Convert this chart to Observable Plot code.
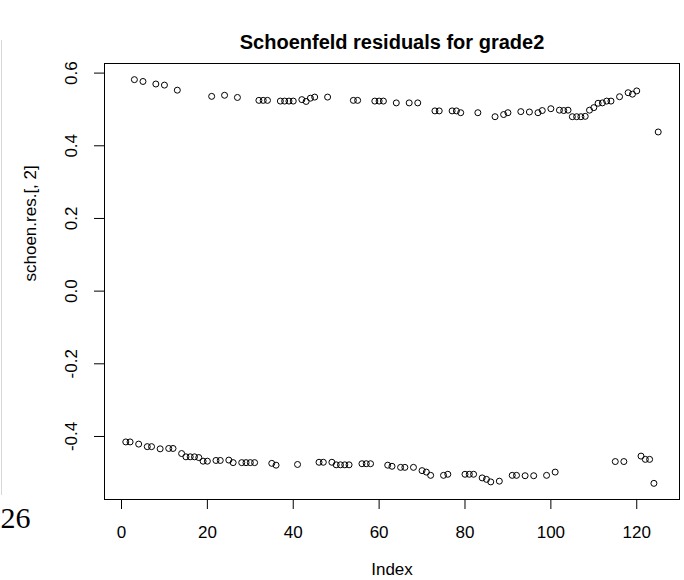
<!DOCTYPE html>
<html><head><meta charset="utf-8">
<script src="https://cdn.jsdelivr.net/npm/d3@7"></script>
<script src="https://cdn.jsdelivr.net/npm/@observablehq/plot@0.6"></script>
<style>body{margin:0;background:#fff}</style>
</head><body><div id="chart"></div>
<script>
// Schoenfeld residuals for grade2, in index order 1..125
const residuals = [
  -0.415, -0.415, 0.582, -0.421, 0.577, -0.428, -0.428, 0.570, -0.434, 0.567,
  -0.433, -0.433, 0.553, -0.447, -0.456, -0.456, -0.456, -0.458, -0.468, -0.468,
  0.536, -0.466, -0.466, 0.539, -0.465, -0.472, 0.533, -0.472, -0.472, -0.472,
  -0.472, 0.525, 0.525, 0.525, -0.474, -0.479, 0.523, 0.523, 0.523, 0.523,
  -0.477, 0.527, 0.522, 0.531, 0.534, -0.471, -0.471, 0.534, -0.471, -0.478,
  -0.478, -0.478, -0.478, 0.525, 0.525, -0.475, -0.475, -0.475, 0.523, 0.523,
  0.523, -0.479, -0.482, 0.518, -0.485, -0.485, 0.518, -0.485, 0.518, -0.494,
  -0.498, -0.507, 0.496, 0.496, -0.507, -0.504, 0.496, 0.496, 0.491, -0.504,
  -0.504, -0.504, 0.491, -0.514, -0.518, -0.525, 0.480, -0.523, 0.486, 0.491,
  -0.507, -0.507, 0.494, -0.508, 0.493, -0.508, 0.491, 0.497, -0.507, 0.502,
  -0.498, 0.498, 0.497, 0.498, 0.480, 0.480, 0.480, 0.481, 0.498, 0.505,
  0.517, 0.518, 0.523, 0.523, -0.469, 0.535, -0.469, 0.546, 0.542, 0.551,
  -0.454, -0.463, -0.463, -0.529, 0.438
];
const xTicks = [0, 20, 40, 60, 80, 100, 120];
const xTickLabels = ["0", "20", "40", "60", "80", "100", "120"];
const yTicks = [-0.4, -0.2, 0, 0.2, 0.4, 0.6];
const yTickLabels = ["-0.4", "-0.2", "0.0", "0.2", "0.4", "0.6"];
const title = "Schoenfeld residuals for grade2";
const xLabel = "Index";
const yLabel = "schoen.res.[, 2]";
const pageNumber = "26";

const data = residuals.map((v, i) => ({index: i + 1, value: v}));
// R-style axis range: data range extended by 4% on each side
function rRange(ext) { const r = ext[1] - ext[0]; return [ext[0] - 0.04 * r, ext[1] + 0.04 * r]; }

const sans = "'Liberation Sans', Arial, Helvetica, sans-serif";
const plot = Plot.plot({
  width: 684, height: 580,
  marginLeft: 104, marginRight: 5, marginTop: 63, marginBottom: 81,
  style: {fontFamily: sans, fontSize: "17px", background: "#fff", color: "#000"},
  x: {domain: rRange(d3.extent(data, d => d.index))},
  y: {domain: rRange(d3.extent(data, d => d.value))},
  marks: [
    Plot.frame({stroke: "#000", strokeWidth: 1}),
    Plot.axisX({ticks: xTicks, tickFormat: d => xTickLabels[xTicks.indexOf(d)], tickSize: 10, tickPadding: 16, label: null, fontSize: 17}),
    Plot.axisY({ticks: yTicks, tickFormat: d => yTickLabels[yTicks.indexOf(d)], tickRotate: -90, tickSize: 10, tickPadding: 18, label: null, fontSize: 17}),
    Plot.dot(data, {x: "index", y: "value", r: 3, stroke: "#000", strokeWidth: 1, fill: "none"}),
    Plot.text([title], {text: d => d, frameAnchor: "top", dy: -29, fontWeight: "bold", fontSize: 20}),
    Plot.text([xLabel], {text: d => d, frameAnchor: "bottom", dy: 75, fontSize: 17}),
    Plot.text([yLabel], {text: d => d, frameAnchor: "left", dx: -74, rotate: -90, fontSize: 17}),
    Plot.text([pageNumber], {text: d => d, frameAnchor: "bottom-left", textAnchor: "start", dx: -104, dy: 28, fontSize: 30, fontFamily: "'Liberation Serif', 'DejaVu Serif', serif"})
  ]
});
// faint scan edge line at the far left of the page
d3.select(plot).insert("line", ":first-child")
  .attr("x1", 1.5).attr("x2", 1.5).attr("y1", 40).attr("y2", 495)
  .attr("stroke", "#d8d8d8").attr("stroke-width", 1);
document.getElementById("chart").appendChild(plot);
</script>
</body></html>
